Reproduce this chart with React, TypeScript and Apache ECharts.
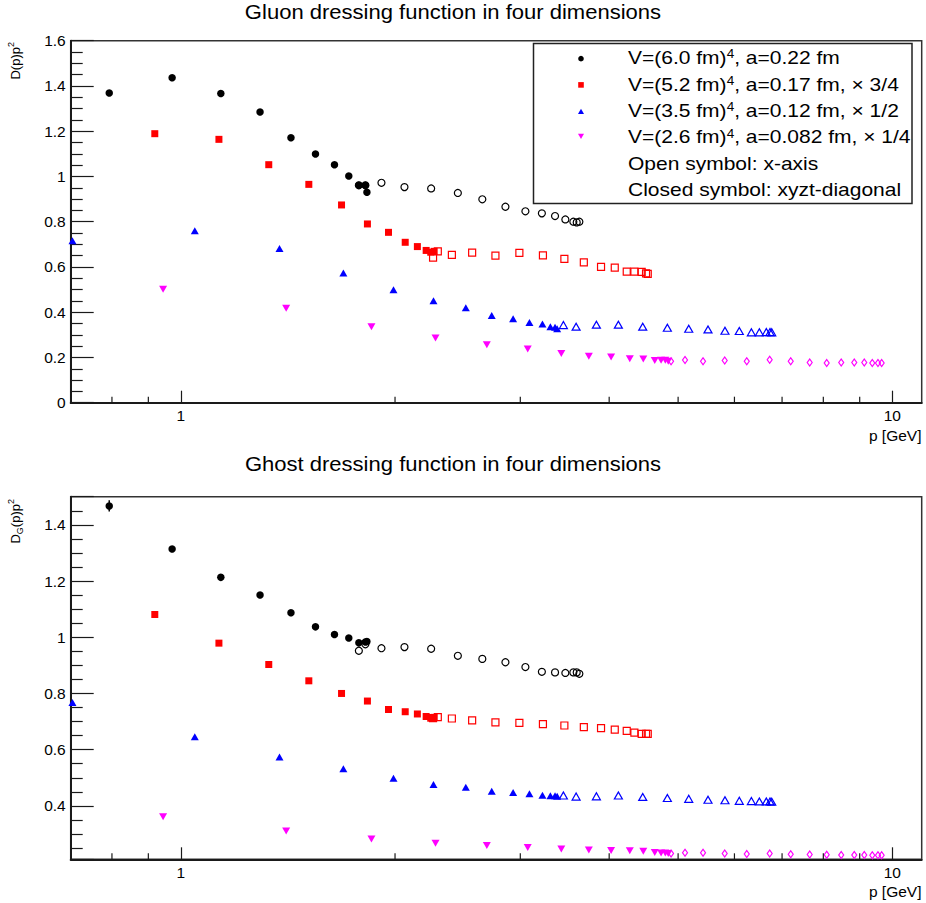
import React, { useEffect, useRef } from 'react';
import * as echarts from 'echarts';

// ---------- data (p in GeV, dressing-function values) ----------
const titles = ['Gluon dressing function in four dimensions', 'Ghost dressing function in four dimensions'];
const xMinorTicks = [0.8, 0.9, 2, 3, 4, 5, 6, 7, 8, 9];

// black: V=(6.0 fm)^4
const blackFilledP = [0.793, 0.972, 1.138, 1.292, 1.428, 1.546, 1.644, 1.722, 1.779, 1.817, 1.826];
const gluonBlackFilled = [1.369, 1.436, 1.367, 1.285, 1.171, 1.099, 1.052, 1.002, 0.961, 0.961, 0.930];
const ghostBlackFilled = [1.467, 1.314, 1.213, 1.150, 1.087, 1.037, 1.010, 0.997, 0.980, 0.983, 0.985];
const ghostBlackFilledErr = [0.02, 0.008, 0.006, 0.005, 0.004, 0.004, 0.003, 0.003, 0.003, 0.003, 0.003];
const blackOpenP = [1.779, 1.817, 1.914, 2.062, 2.248, 2.451, 2.653, 2.859, 3.050, 3.217, 3.357, 3.471, 3.562, 3.601, 3.632];
const gluonBlackOpen = [0.961, 0.961, 0.972, 0.953, 0.947, 0.927, 0.899, 0.866, 0.846, 0.837, 0.825, 0.810, 0.800, 0.797, 0.800];
const ghostBlackOpen = [0.952, 0.975, 0.961, 0.965, 0.959, 0.934, 0.923, 0.911, 0.894, 0.877, 0.875, 0.873, 0.875, 0.875, 0.870];

// red: V=(5.2 fm)^4 x 3/4
const redFilledP = [0.919, 1.131, 1.329, 1.513, 1.682, 1.829, 1.958, 2.067, 2.150, 2.212, 2.245, 2.270];
const gluonRedFilled = [1.189, 1.164, 1.052, 0.965, 0.874, 0.790, 0.753, 0.709, 0.690, 0.673, 0.665, 0.669];
const ghostRedFilled = [1.081, 0.979, 0.903, 0.845, 0.800, 0.773, 0.743, 0.735, 0.727, 0.718, 0.712, 0.715];
const redOpenP = [2.262, 2.297, 2.404, 2.567, 2.768, 2.991, 3.228, 3.460, 3.685, 3.896, 4.073, 4.234, 4.340, 4.444, 4.507, 4.532];
const gluonRedOpen = [0.641, 0.669, 0.653, 0.663, 0.650, 0.662, 0.651, 0.636, 0.620, 0.600, 0.597, 0.579, 0.579, 0.578, 0.572, 0.569];
const ghostRedOpen = [0.712, 0.716, 0.711, 0.704, 0.697, 0.695, 0.691, 0.686, 0.680, 0.677, 0.671, 0.667, 0.661, 0.656, 0.656, 0.656];

// blue: V=(3.5 fm)^4 x 1/2
const blueFilledP = [0.704, 1.046, 1.376, 1.692, 1.990, 2.265, 2.515, 2.735, 2.931, 3.090, 3.223, 3.307, 3.357, 3.380];
const gluonBlueFilled = [0.716, 0.760, 0.681, 0.573, 0.499, 0.451, 0.420, 0.385, 0.371, 0.355, 0.348, 0.336, 0.333, 0.327];
const ghostBlueFilled = [0.768, 0.646, 0.574, 0.532, 0.498, 0.476, 0.466, 0.452, 0.448, 0.443, 0.438, 0.436, 0.436, 0.434];
const blueOpenP = [3.449, 3.594, 3.838, 4.121, 4.459, 4.829, 5.175, 5.508, 5.819, 6.095, 6.338, 6.504, 6.652, 6.732, 6.770];
const gluonBlueOpen = [0.343, 0.336, 0.345, 0.345, 0.336, 0.331, 0.327, 0.324, 0.318, 0.317, 0.311, 0.311, 0.312, 0.312, 0.311];
const ghostBlueOpen = [0.437, 0.433, 0.434, 0.437, 0.432, 0.428, 0.425, 0.422, 0.420, 0.418, 0.417, 0.416, 0.416, 0.416, 0.415];

// magenta: V=(2.6 fm)^4 x 1/4
const magentaFilledP = [0.944, 1.406, 1.853, 2.280, 2.692, 3.073, 3.426, 3.745, 4.025, 4.276, 4.467, 4.636, 4.732, 4.797, 4.843];
const gluonMagentaFilled = [0.501, 0.417, 0.336, 0.286, 0.256, 0.237, 0.218, 0.205, 0.202, 0.194, 0.193, 0.186, 0.188, 0.188, 0.183];
const ghostMagentaFilled = [0.361, 0.311, 0.282, 0.267, 0.259, 0.252, 0.247, 0.243, 0.241, 0.240, 0.239, 0.234, 0.232, 0.232, 0.231];
const magentaOpenP = [4.887, 5.113, 5.420, 5.814, 6.244, 6.725, 7.199, 7.655, 8.088, 8.477, 8.843, 9.134, 9.374, 9.548, 9.663];
const gluonMagentaOpen = [0.183, 0.189, 0.183, 0.186, 0.183, 0.190, 0.183, 0.178, 0.175, 0.178, 0.178, 0.178, 0.175, 0.175, 0.175];
const ghostMagentaOpen = [0.231, 0.233, 0.233, 0.231, 0.229, 0.231, 0.228, 0.227, 0.226, 0.225, 0.225, 0.225, 0.224, 0.224, 0.224];

const legendTexts = [
  'V=(6.0 fm){sup|4}, a=0.22 fm',
  'V=(5.2 fm){sup|4}, a=0.17 fm, × 3/4',
  'V=(3.5 fm){sup|4}, a=0.12 fm, × 1/2',
  'V=(2.6 fm){sup|4}, a=0.082 fm, × 1/4',
  'Open symbol: x-axis',
  'Closed symbol: xyzt-diagonal',
];

// ---------- styling ----------
const FONT = '"Liberation Sans", Arial, Helvetica, sans-serif';
const BLACK = '#000000';
const RED = '#ff0000';
const BLUE = '#0000ff';
const MAGENTA = '#ff00ff';
const AXIS = '#1a1a1a';

const GRID_LEFT = 70.7;
const GRID_W = 851;
const grids = [
  { top: 40.7, height: 362 },
  { top: 496.7, height: 362.6 },
];
const yMins = [0, 0.21];

function pts(p: number[], v: number[]) {
  return p.map((x, i) => [x, v[i]]);
}

function filled(k: number, p: number[], v: number[], color: string, symbol: string, size: any, rotate = 0) {
  return {
    type: 'scatter', xAxisIndex: k, yAxisIndex: k, data: pts(p, v), symbol, symbolSize: size,
    symbolRotate: rotate, itemStyle: { color, opacity: 1 }, silent: true, z: 4,
  };
}

function open(k: number, p: number[], v: number[], color: string, symbol: string, size: any) {
  return {
    type: 'scatter', xAxisIndex: k, yAxisIndex: k, data: pts(p, v), symbol, symbolSize: size,
    itemStyle: { color: 'rgba(255,255,255,0)', borderColor: color, borderWidth: 1.2, opacity: 1 },
    silent: true, z: 3,
  };
}

function minorTickSeries(k: number) {
  return {
    type: 'custom', xAxisIndex: k, yAxisIndex: k, silent: true, z: 5,
    data: xMinorTicks.map((p) => [p, yMins[k]]),
    renderItem: (_params: any, api: any) => {
      const c = api.coord([api.value(0), api.value(1)]);
      return {
        type: 'line',
        shape: { x1: c[0], y1: c[1], x2: c[0], y2: c[1] - 6 },
        style: { stroke: AXIS, lineWidth: 1.2 },
      };
    },
  };
}

function xAxisFor(k: number) {
  return {
    type: 'log', logBase: 10, min: 0.7, max: 11, gridIndex: k,
    axisLine: { show: true, onZero: false, lineStyle: { color: AXIS, width: 2 } },
    axisTick: { show: true, inside: true, length: 12, lineStyle: { color: AXIS, width: 1.2 } },
    minorTick: { show: false },
    axisLabel: {
      show: true, margin: 5, fontSize: 15.5, color: '#000', fontFamily: FONT,
      showMinLabel: false, showMaxLabel: false,
    },
    splitLine: { show: false },
  };
}

function yAxisFor(k: number) {
  const base: any = {
    type: 'value', gridIndex: k,
    axisLine: { show: true, onZero: false, lineStyle: { color: AXIS, width: 2 } },
    axisTick: { show: true, inside: true, length: 23, lineStyle: { color: AXIS, width: 1.2 } },
    minorTick: { show: true, splitNumber: 4, length: 12, lineStyle: { color: AXIS, width: 1.2 } },
    axisLabel: { show: true, margin: 5, fontSize: 15.5, color: '#000', fontFamily: FONT },
    splitLine: { show: false },
    minorSplitLine: { show: false },
  };
  if (k === 0) {
    base.min = 0; base.max = 1.6; base.interval = 0.2;
  } else {
    base.min = 0.21; base.max = 1.5; base.splitNumber = 6;
    base.axisLabel.showMinLabel = false;
    base.axisLabel.showMaxLabel = false;
  }
  return base;
}

function panelSeries(k: number, d: any) {
  return [
    open(k, blackOpenP, d.blackOpen, BLACK, 'circle', 7),
    open(k, redOpenP, d.redOpen, RED, 'rect', 7),
    open(k, blueOpenP, d.blueOpen, BLUE, 'triangle', [8, 7]),
    open(k, magentaOpenP, d.magentaOpen, MAGENTA, 'diamond', [5, 7]),
    filled(k, blackFilledP, d.blackFilled, BLACK, 'circle', 7.5),
    filled(k, redFilledP, d.redFilled, RED, 'rect', 7),
    filled(k, blueFilledP, d.blueFilled, BLUE, 'triangle', [8, 7]),
    filled(k, magentaFilledP, d.magentaFilled, MAGENTA, 'triangle', [8, 7], 180),
    minorTickSeries(k),
  ];
}

function txt(x: number, y: number, text: string, fontSize: number, align: string, extra: any = {}) {
  return {
    type: 'text', x, y, silent: true, z: 100,
    ...extra,
    style: {
      x: 0, y: 0, text, fill: '#000', fontSize, fontFamily: FONT,
      align, verticalAlign: 'middle', textAlign: align, textVerticalAlign: 'middle',
      ...(extra.style || {}),
    },
  };
}

export default function App() {
  const ref = useRef<HTMLDivElement>(null);
  useEffect(() => {
    if (!ref.current) return;
    const chart = echarts.init(ref.current, null, { renderer: 'svg' });

    const gluon = {
      blackFilled: gluonBlackFilled, blackOpen: gluonBlackOpen,
      redFilled: gluonRedFilled, redOpen: gluonRedOpen,
      blueFilled: gluonBlueFilled, blueOpen: gluonBlueOpen,
      magentaFilled: gluonMagentaFilled, magentaOpen: gluonMagentaOpen,
    };
    const ghost = {
      blackFilled: ghostBlackFilled, blackOpen: ghostBlackOpen,
      redFilled: ghostRedFilled, redOpen: ghostRedOpen,
      blueFilled: ghostBlueFilled, blueOpen: ghostBlueOpen,
      magentaFilled: ghostMagentaFilled, magentaOpen: ghostMagentaOpen,
    };

    const errSeries = {
      type: 'custom', xAxisIndex: 1, yAxisIndex: 1, silent: true, z: 4,
      data: blackFilledP.map((p, i) => [p, ghostBlackFilled[i], ghostBlackFilledErr[i]]),
      renderItem: (_params: any, api: any) => {
        const x = api.value(0), y = api.value(1), e = api.value(2);
        const a = api.coord([x, y - e]);
        const b = api.coord([x, y + e]);
        return {
          type: 'line',
          shape: { x1: a[0], y1: a[1], x2: b[0], y2: b[1] },
          style: { stroke: BLACK, lineWidth: 1.5 },
        };
      },
    };

    const SX = 1.13;
    const legendRowY = [57.7, 84.1, 110.5, 136.9, 163.3, 189.7];
    const mx = 581;
    const graphic: any[] = [
      txt(453, 12, titles[0], 19.5, 'center', { scaleX: SX }),
      txt(453, 463.5, titles[1], 19.5, 'center', { scaleX: SX }),
      txt(921.5, 435, 'p [GeV]', 15.5, 'right'),
      txt(921.5, 891, 'p [GeV]', 15.5, 'right'),
      txt(15, 42, '{b|D(p)p}{sup|2}', 13, 'right', {
        rotation: Math.PI / 2,
        style: {
          rich: {
            b: { fontSize: 13, fontFamily: FONT, fill: '#000', lineHeight: 18, verticalAlign: 'middle' },
            sup: { fontSize: 9, fontFamily: FONT, fill: '#000', verticalAlign: 'top' },
          },
        },
      }),
      txt(15, 499, '{b|D}{sub|G}{b|(p)p}{sup|2}', 13, 'right', {
        rotation: Math.PI / 2,
        style: {
          rich: {
            b: { fontSize: 13, fontFamily: FONT, fill: '#000', lineHeight: 18, verticalAlign: 'middle' },
            sub: { fontSize: 9, fontFamily: FONT, fill: '#000', verticalAlign: 'bottom' },
            sup: { fontSize: 9, fontFamily: FONT, fill: '#000', verticalAlign: 'top' },
          },
        },
      }),
      {
        type: 'rect', silent: true, z: 90,
        shape: { x: 533.5, y: 43.5, width: 378.5, height: 160 },
        style: { fill: '#fff', stroke: '#222', lineWidth: 1.5 },
      },
      { type: 'circle', silent: true, z: 95, shape: { cx: mx, cy: legendRowY[0] + 1, r: 2.8 }, style: { fill: BLACK } },
      { type: 'rect', silent: true, z: 95, shape: { x: mx - 2.8, y: legendRowY[1] - 2, width: 5.6, height: 5.6 }, style: { fill: RED } },
      {
        type: 'polygon', silent: true, z: 95,
        shape: { points: [[mx - 3, legendRowY[2] + 3.5], [mx + 3, legendRowY[2] + 3.5], [mx, legendRowY[2] - 1.8]] },
        style: { fill: BLUE },
      },
      {
        type: 'polygon', silent: true, z: 95,
        shape: { points: [[mx - 3, legendRowY[3] - 3.2], [mx + 3, legendRowY[3] - 3.2], [mx, legendRowY[3] + 2]] },
        style: { fill: MAGENTA },
      },
      ...legendTexts.map((t, i) =>
        txt(628, legendRowY[i], t, 18.6, 'left', {
          scaleX: SX,
          style: {
            rich: {
              sup: { fontSize: 12, fontFamily: FONT, fill: '#000', verticalAlign: 'top' },
            },
          },
        })
      ),
    ];

    const option: any = {
      animation: false,
      backgroundColor: '#ffffff',
      textStyle: { fontFamily: FONT },
      grid: grids.map((g) => ({
        left: GRID_LEFT, top: g.top, width: GRID_W, height: g.height,
        show: true, borderColor: '#333', borderWidth: 1.5, backgroundColor: 'rgba(0,0,0,0)',
        containLabel: false,
      })),
      xAxis: [xAxisFor(0), xAxisFor(1)],
      yAxis: [yAxisFor(0), yAxisFor(1)],
      series: [...panelSeries(0, gluon), ...panelSeries(1, ghost), errSeries],
      graphic,
    };
    chart.setOption(option);
    return () => chart.dispose();
  }, []);

  return <div ref={ref} style={{ position: 'absolute', left: 0, top: 0, width: 926, height: 903 }} />;
}
